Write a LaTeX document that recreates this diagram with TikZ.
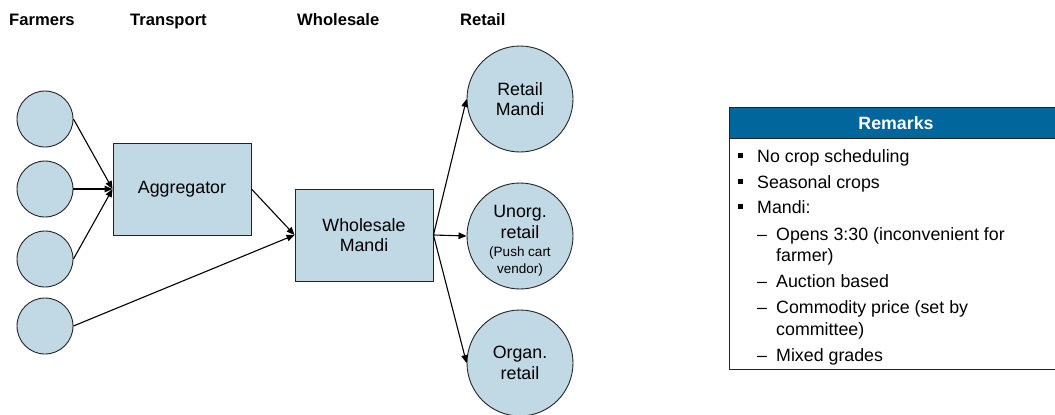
\documentclass[tikz,border=0pt]{standalone}
\usepackage{fontspec}
\setmainfont{Liberation Sans}
\usetikzlibrary{arrows.meta}
\definecolor{nodefill}{RGB}{192,217,229}
\definecolor{headblue}{RGB}{0,102,155}
\definecolor{edgegrey}{RGB}{35,35,35}
\begin{document}
\begin{tikzpicture}[x=1pt,y=-1pt,
  farm/.style={circle,draw=edgegrey,fill=nodefill,line width=0.9pt,minimum size=56pt,inner sep=0pt},
  outlet/.style={circle,draw=edgegrey,fill=nodefill,line width=0.9pt,minimum size=106pt,inner sep=0pt,align=center,font=\fontsize{17.8}{20.5}\selectfont},
  stage/.style={rectangle,draw=edgegrey,fill=nodefill,line width=0.9pt,minimum width=138pt,minimum height=92pt,inner sep=0pt,align=center,font=\fontsize{17.8}{20.5}\selectfont},
  flow/.style={line width=1.1pt,-{Triangle[length=8pt,width=6.5pt]}},
  colhead/.style={anchor=base west,inner sep=0pt,font=\fontsize{16.6}{20}\selectfont\bfseries},
  remark/.style={anchor=base west,inner sep=0pt,font=\fontsize{17.8}{21}\selectfont},
  bulletmark/.style={fill=black,inner sep=0pt,minimum size=5pt},
]
\useasboundingbox (0,0) rectangle (1055,415);

% column headings
\node[colhead] (hFarm) at (9,25) {Farmers};
\node[colhead] (hTrans) at (130,25) {Transport};
\node[colhead] (hWhole) at (297,25) {Wholesale};
\node[colhead] (hRetail) at (460,25) {Retail};

% farmers
\node[farm] (f1) at (45,119) {};
\node[farm] (f2) at (45,189) {};
\node[farm] (f3) at (45,259) {};
\node[farm] (f4) at (45,326) {};

% transport and wholesale
\node[stage] (agg) at (182,189) {Aggregator};
\node[stage] (whm) at (364,235) {Wholesale\\Mandi};

% retail outlets
\node[outlet] (rm) at (520,99) {Retail\\Mandi};
\node[outlet] (ur) at (520,236) {};
\node[align=center,inner sep=0pt,font=\fontsize{17.8}{20.5}\selectfont] (urtext) at (520,241) {Unorg.\\retail\\[-2pt]{\fontsize{13.5}{17}\selectfont (Push cart}\\[-4pt]{\fontsize{13.5}{17}\selectfont vendor)}};
\node[outlet] (orr) at (520,363) {Organ.\\retail};

% flows
\draw[flow] (f1.east) -- (agg.west);
\draw[flow] (f2.east) -- (agg.west);
\draw[flow] (f3.east) -- (agg.west);
\draw[flow] (f4.east) -- (whm.west);
\draw[flow] (agg.east) -- (whm.west);
\draw[flow] (whm.east) -- (rm.west);
\draw[flow] (whm.east) -- (ur.west);
\draw[flow] (whm.east) -- (orr.west);

% remarks panel
\node[draw=edgegrey,line width=1pt,fill=white,anchor=north west,minimum width=328pt,minimum height=262pt,inner sep=0pt] (panel) at (729,107) {};
\node[draw=edgegrey,line width=1pt,fill=headblue,anchor=north west,minimum width=328pt,minimum height=31pt,inner sep=0pt] (panelhead) at (729,107) {};
\node[text=white,font=\fontsize{17.8}{21}\selectfont\bfseries,inner sep=0pt] (paneltitle) at (896,123) {Remarks};

\node[bulletmark] (b1) at (740.5,155.5) {};
\node[remark] (r1) at (757,162) {No crop scheduling};
\node[bulletmark] (b2) at (740.5,181.5) {};
\node[remark] (r2) at (757,188) {Seasonal crops};
\node[bulletmark] (b3) at (740.5,206.5) {};
\node[remark] (r3) at (757,213) {Mandi:};
\node[remark] (d1) at (757,240) {–};
\node[remark] (r4) at (776,240) {Opens 3:30 (inconvenient for};
\node[remark] (r4b) at (776,261) {farmer)};
\node[remark] (d2) at (757,287) {–};
\node[remark] (r5) at (776,287) {Auction based};
\node[remark] (d3) at (757,313) {–};
\node[remark] (r6) at (776,313) {Commodity price (set by};
\node[remark] (r6b) at (776,335) {committee)};
\node[remark] (d4) at (757,361) {–};
\node[remark] (r7) at (776,361) {Mixed grades};
\end{tikzpicture}
\end{document}
